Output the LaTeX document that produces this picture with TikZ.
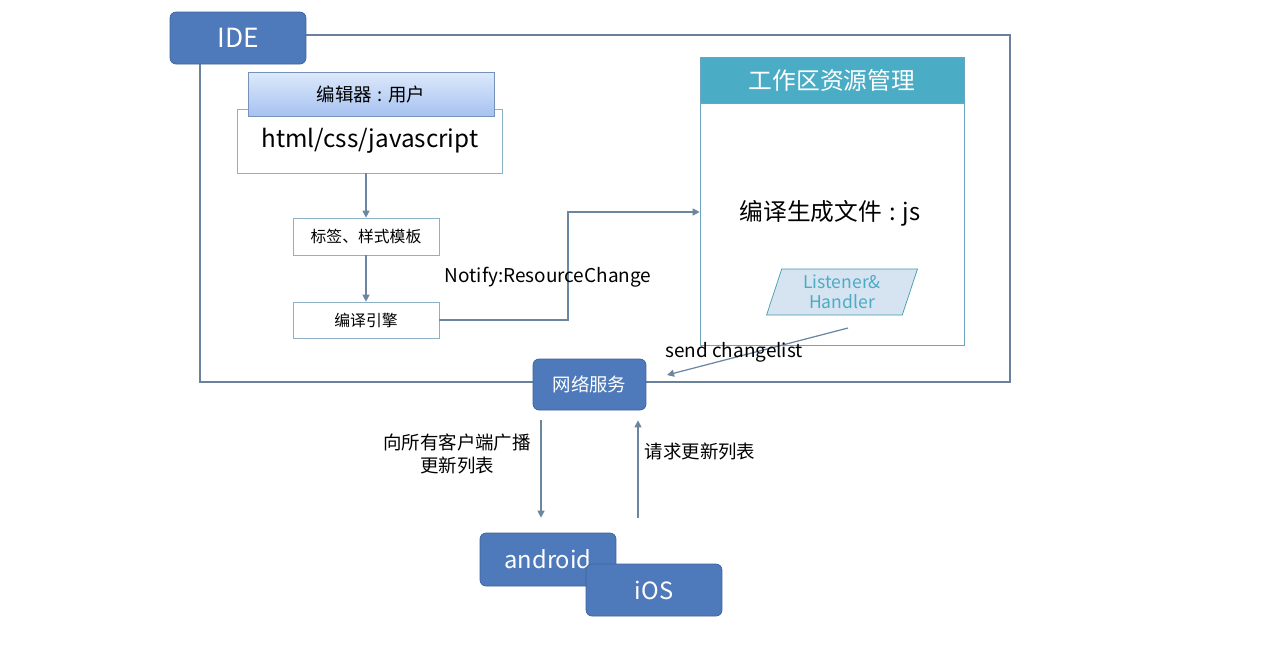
\documentclass[tikz,border=0pt]{standalone}
\usepackage{fontspec}
\setmainfont{Noto Sans CJK SC}
\usetikzlibrary{arrows.meta,shapes.geometric}
\definecolor{boxblue}{HTML}{4E79BA}
\definecolor{boxedge}{HTML}{3D6399}
\definecolor{framec}{HTML}{6A819E}
\definecolor{linkc}{HTML}{6B86A0}
\definecolor{tealc}{HTML}{4BACC6}
\definecolor{tealedge}{HTML}{6BA5BF}
\definecolor{lightedge}{HTML}{8DB2C6}
\definecolor{edtop}{HTML}{DEE9FB}
\definecolor{edbottom}{HTML}{A6C2F0}
\definecolor{listenfill}{HTML}{D6E3F1}
\newcommand{\midcolon}{\hspace{0.3em}:\hspace{0.3em}}
\tikzset{
  bluebox/.style={draw=boxedge,fill=boxblue,rounded corners=0.12cm,text=white,inner sep=0pt},
  plainbox/.style={draw=lightedge,fill=white,inner sep=0pt},
  arr/.style={draw=linkc,line width=0.7pt,-{Triangle[length=4pt,width=4pt]}},
  lbl/.style={inner sep=0pt,font=\fontsize{10.8}{13}\selectfont}
}
\begin{document}
\begin{tikzpicture}[x=0.02cm,y=-0.02cm]
  \useasboundingbox (0,0) rectangle (1280,654);
  \draw[framec,line width=1.2pt] (200,35) rectangle (1010,382);
  \node[bluebox,minimum width=2.72cm,minimum height=1.04cm,font=\fontsize{15}{18}\selectfont] (ide) at (238,38) {IDE};

  \node[plainbox,minimum width=5.3cm,minimum height=1.28cm,font=\fontsize{13.8}{16}\selectfont] (html) at (370,141) {html/css/javascript};
  \node[draw=boxedge!70,top color=edtop,bottom color=edbottom,minimum width=4.92cm,minimum height=0.88cm,inner sep=0pt,font=\fontsize{10.5}{12}\selectfont] (editor) at (371,94) {编辑器\midcolon 用户};
  \node[plainbox,minimum width=2.92cm,minimum height=0.74cm,font=\fontsize{9}{11}\selectfont] (tags) at (366,236.5) {标签、样式模板};
  \node[plainbox,minimum width=2.92cm,minimum height=0.72cm,font=\fontsize{9}{11}\selectfont] (engine) at (366,320) {编译引擎};
  \draw[arr] (tags.north |- html.south) -- (tags.north);
  \draw[arr] (tags.south) -- (engine.north);

  \node[draw=tealedge,fill=white,minimum width=5.28cm,minimum height=5.76cm,inner sep=0pt] (ws) at (832,201) {};
  \node[draw=tealedge,fill=tealc,anchor=north,minimum width=5.28cm,minimum height=0.92cm,inner sep=0pt,text=white,font=\fontsize{13.5}{16}\selectfont] (wshead) at (ws.north) {工作区资源管理};
  \node[inner sep=0pt,font=\fontsize{13.5}{16}\selectfont] (jsfile) at (830,213) {编译生成文件\midcolon js};
  \node[trapezium,trapezium left angle=74,trapezium right angle=106,trapezium stretches=true,
        draw=tealc!90!black,fill=listenfill,minimum width=3.02cm,minimum height=0.92cm,inner sep=0pt,
        align=center,text=tealc,font=\fontsize{10}{11.5}\selectfont] (listener) at (842,292) {Listener\&\\Handler};

  \coordinate (bend) at (568,212);
  \draw[arr] (engine.east) -| (bend) -- (bend -| ws.west);
  \node[lbl] (notify) at (548,277) {Notify:ResourceChange};

  \node[bluebox,minimum width=2.26cm,minimum height=1.02cm,font=\fontsize{10.5}{12}\selectfont] (net) at (589.5,384.5) {网络服务};
  \coordinate (sendfrom) at (848,328);
  \coordinate (sendto) at (667,375);
  \draw[arr] (sendfrom) -- (sendto);
  \node[lbl] (send) at (734,352) {send changelist};

  \node[bluebox,minimum width=2.72cm,minimum height=1.06cm,font=\fontsize{13.5}{16}\selectfont] (android) at (548,559.5) {android};
  \node[bluebox,minimum width=2.72cm,minimum height=1.04cm,font=\fontsize{13.5}{16}\selectfont] (ios) at (654,590) {iOS};

  \draw[arr,shorten <=0.2cm,shorten >=0.3cm] ([xshift=-0.97cm]net.south) -- ([xshift=-0.97cm]net.south |- android.north);
  \draw[arr,shorten <=0.3cm,shorten >=0.2cm] ([xshift=0.97cm]net.south |- android.north) -- ([xshift=0.97cm]net.south);
  \node[lbl,align=center,font=\fontsize{10.5}{13}\selectfont] (bcast) at (457,454) {向所有客户端广播\\更新列表};
  \node[lbl,font=\fontsize{10.5}{13}\selectfont] (req) at (700,451) {请求更新列表};
\end{tikzpicture}
\end{document}
